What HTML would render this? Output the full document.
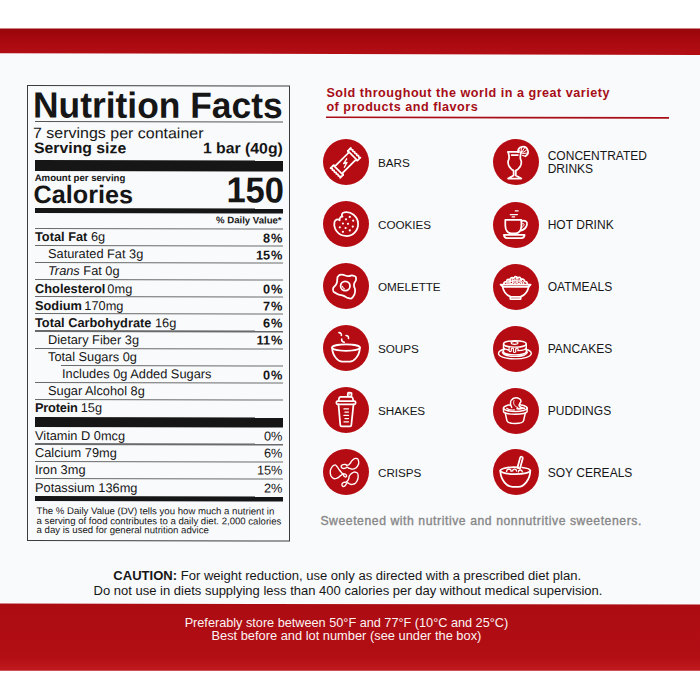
<!DOCTYPE html>
<html><head><meta charset="utf-8"><title>Nutrition Facts</title>
<style>
html,body{margin:0;padding:0;background:#fff;}
body{width:700px;height:700px;position:relative;overflow:hidden;font-family:"Liberation Sans",sans-serif;}
.t{position:absolute;white-space:nowrap;margin:0;padding:0;}
.r{position:absolute;box-sizing:content-box;}
b{font-weight:bold}
</style></head><body>
<div class="r" style="left:0;top:28.5px;width:700px;height:642px;background:#f9fafc"></div>
<svg class="r" style="left:0;top:0" width="700" height="700"><defs><linearGradient id="g1" x1="0" y1="0" x2="0" y2="1"><stop offset="0" stop-color="#98060b"/><stop offset="0.35" stop-color="#a5080e"/><stop offset="1" stop-color="#b40e15"/></linearGradient><linearGradient id="g2" x1="0" y1="0" x2="0" y2="1"><stop offset="0" stop-color="#ab0c12"/><stop offset="0.8" stop-color="#b20e14"/><stop offset="1" stop-color="#bf1a20"/></linearGradient></defs><polygon points="0,28.6 700,28.6 700,55 0,53.2" fill="url(#g1)"/><polygon points="0,603.6 700,604.4 700,670.8 0,670.8" fill="url(#g2)"/></svg>
<div id="nf" style="position:absolute;left:0;top:0;width:700px;height:700px;transform:skewY(0.1deg);transform-origin:27px 312px;">
<div class="r" style="left:27px;top:84.5px;width:261.40000000000003px;height:454.90000000000003px;border:1.2px solid #3c3c3c"></div>
<div class="t" style="top:87.47px;font-size:36.3px;line-height:36.3px;color:#161616;font-weight:bold;left:32.6px;transform:translateY(0.5px) scaleX(0.975);transform-origin:left center;">Nutrition Facts</div>
<div class="r" style="left:35px;top:120.5px;width:247.5px;height:1.0px;background:#555;"></div>
<div class="t" style="top:124.50px;font-size:15.0px;line-height:15.0px;color:#161616;left:33.2px;transform:translateY(0px) scaleX(1.065);transform-origin:left center;">7 servings per container</div>
<div class="t" style="top:140.33px;font-size:15.2px;line-height:15.2px;color:#161616;font-weight:bold;left:33.8px;transform:translateY(0px) scaleX(1.04);transform-origin:left center;">Serving size</div>
<div class="t" style="top:139.73px;font-size:15.2px;line-height:15.2px;color:#161616;font-weight:bold;right:417.2px;transform:translateY(0px) scaleX(1.04);transform-origin:right center;">1 bar (40g)</div>
<div class="r" style="left:34.6px;top:160px;width:248.4px;height:10.6px;background:#161616;"></div>
<div class="t" style="top:172.77px;font-size:9.6px;line-height:9.6px;color:#161616;font-weight:bold;left:34.7px;">Amount per serving</div>
<div class="t" style="top:182.07px;font-size:25.2px;line-height:25.2px;color:#161616;font-weight:bold;left:33.6px;">Calories</div>
<div class="t" style="top:172.13px;font-size:36px;line-height:36px;color:#161616;font-weight:bold;right:415.9px;transform:translateY(0px) scaleX(0.96);transform-origin:right center;">150</div>
<div class="r" style="left:34.6px;top:208.2px;width:248.4px;height:4.4px;background:#161616;"></div>
<div class="t" style="top:215.27px;font-size:9.6px;line-height:9.6px;color:#161616;font-weight:bold;right:418.4px;">% Daily Value*</div>
<div class="r" style="left:35px;top:227.8px;width:247.5px;height:1.2px;background:#6a6a6a;"></div>
<div class="t" style="top:231.26px;font-size:12.8px;line-height:12.8px;color:#161616;left:35px;"><b>Total Fat</b> 6g</div>
<div class="t" style="top:231.76px;font-size:12.8px;line-height:12.8px;color:#161616;font-weight:bold;right:417.5px;">8<span style="margin-left:1px">%</span></div>
<div class="r" style="left:35px;top:244.9px;width:247.5px;height:1.2px;background:#6a6a6a;"></div>
<div class="t" style="top:248.36px;font-size:12.8px;line-height:12.8px;color:#161616;left:48px;">Saturated Fat 3g</div>
<div class="t" style="top:248.86px;font-size:12.8px;line-height:12.8px;color:#161616;font-weight:bold;right:417.5px;">15<span style="margin-left:1px">%</span></div>
<div class="r" style="left:35px;top:262.0px;width:247.5px;height:1.2px;background:#6a6a6a;"></div>
<div class="t" style="top:265.46px;font-size:12.8px;line-height:12.8px;color:#161616;left:48px;"><i>Trans</i> Fat 0g</div>
<div class="r" style="left:35px;top:279.09999999999997px;width:247.5px;height:1.2px;background:#6a6a6a;"></div>
<div class="t" style="top:282.56px;font-size:12.8px;line-height:12.8px;color:#161616;left:35px;"><b>Cholesterol</b><span style="margin-left:-1.6px"> 0mg</span></div>
<div class="t" style="top:283.06px;font-size:12.8px;line-height:12.8px;color:#161616;font-weight:bold;right:417.5px;">0<span style="margin-left:1px">%</span></div>
<div class="r" style="left:35px;top:296.2px;width:247.5px;height:1.2px;background:#6a6a6a;"></div>
<div class="t" style="top:299.66px;font-size:12.8px;line-height:12.8px;color:#161616;left:35px;"><b>Sodium</b><span style="margin-left:-1.2px"> 170mg</span></div>
<div class="t" style="top:300.16px;font-size:12.8px;line-height:12.8px;color:#161616;font-weight:bold;right:417.5px;">7<span style="margin-left:1px">%</span></div>
<div class="r" style="left:35px;top:313.29999999999995px;width:247.5px;height:1.2px;background:#6a6a6a;"></div>
<div class="t" style="top:316.76px;font-size:12.8px;line-height:12.8px;color:#161616;left:35px;"><b>Total Carbohydrate</b> 16g</div>
<div class="t" style="top:317.26px;font-size:12.8px;line-height:12.8px;color:#161616;font-weight:bold;right:417.5px;">6<span style="margin-left:1px">%</span></div>
<div class="r" style="left:35px;top:330.4px;width:247.5px;height:1.2px;background:#6a6a6a;"></div>
<div class="t" style="top:333.86px;font-size:12.8px;line-height:12.8px;color:#161616;left:48px;">Dietary Fiber 3g</div>
<div class="t" style="top:334.36px;font-size:12.8px;line-height:12.8px;color:#161616;font-weight:bold;right:417.5px;">11<span style="margin-left:1px">%</span></div>
<div class="r" style="left:35px;top:347.5px;width:247.5px;height:1.2px;background:#6a6a6a;"></div>
<div class="t" style="top:350.96px;font-size:12.8px;line-height:12.8px;color:#161616;left:48px;">Total Sugars 0g</div>
<div class="r" style="left:61px;top:364.6px;width:221.5px;height:1.2px;background:#6a6a6a;"></div>
<div class="t" style="top:368.06px;font-size:12.8px;line-height:12.8px;color:#161616;left:62px;">Includes 0g Added Sugars</div>
<div class="t" style="top:368.56px;font-size:12.8px;line-height:12.8px;color:#161616;font-weight:bold;right:417.5px;">0<span style="margin-left:1px">%</span></div>
<div class="r" style="left:35px;top:381.7px;width:247.5px;height:1.2px;background:#6a6a6a;"></div>
<div class="t" style="top:385.16px;font-size:12.8px;line-height:12.8px;color:#161616;left:48px;">Sugar Alcohol 8g</div>
<div class="r" style="left:35px;top:398.79999999999995px;width:247.5px;height:1.2px;background:#6a6a6a;"></div>
<div class="t" style="top:402.26px;font-size:12.8px;line-height:12.8px;color:#161616;left:35px;"><b style="letter-spacing:-0.2px">Protein</b><span style="margin-left:-0.6px"> 15g</span></div>
<div class="r" style="left:35px;top:416.6px;width:247.5px;height:10px;background:#161616;"></div>
<div class="t" style="top:430.16px;font-size:12.8px;line-height:12.8px;color:#161616;left:35px;">Vitamin D 0mcg</div>
<div class="t" style="top:430.16px;font-size:12.8px;line-height:12.8px;color:#161616;right:417.5px;">0%</div>
<div class="r" style="left:35px;top:443.4px;width:247.5px;height:1.2px;background:#6a6a6a;"></div>
<div class="t" style="top:447.31px;font-size:12.8px;line-height:12.8px;color:#161616;left:35px;">Calcium 79mg</div>
<div class="t" style="top:447.31px;font-size:12.8px;line-height:12.8px;color:#161616;right:417.5px;">6%</div>
<div class="r" style="left:35px;top:460.54999999999995px;width:247.5px;height:1.2px;background:#6a6a6a;"></div>
<div class="t" style="top:464.46px;font-size:12.8px;line-height:12.8px;color:#161616;left:35px;">Iron 3mg</div>
<div class="t" style="top:464.46px;font-size:12.8px;line-height:12.8px;color:#161616;right:417.5px;">15%</div>
<div class="r" style="left:35px;top:477.7px;width:247.5px;height:1.2px;background:#6a6a6a;"></div>
<div class="t" style="top:481.61px;font-size:12.8px;line-height:12.8px;color:#161616;left:35px;">Potassium 136mg</div>
<div class="t" style="top:481.61px;font-size:12.8px;line-height:12.8px;color:#161616;right:417.5px;">2%</div>
<div class="r" style="left:35px;top:496px;width:247.5px;height:4.6px;background:#161616;"></div>
<div class="t" style="top:506.27px;font-size:9.6px;line-height:9.6px;color:#161616;left:36.6px;">The % Daily Value (DV) tells you how much a nutrient in</div>
<div class="t" style="top:515.67px;font-size:9.6px;line-height:9.6px;color:#161616;left:36.6px;">a serving of food contributes to a daily diet. 2,000 calories</div>
<div class="t" style="top:525.07px;font-size:9.6px;line-height:9.6px;color:#161616;left:36.6px;">a day is used for general nutrition advice</div>
</div>
<div class="t" style="top:86.93px;font-size:12.6px;line-height:12.6px;color:#a60d16;font-weight:bold;letter-spacing:0.515px;left:326.4px;">Sold throughout the world in a great variety</div>
<div class="t" style="top:101.13px;font-size:12.6px;line-height:12.6px;color:#a60d16;font-weight:bold;letter-spacing:0.515px;left:326.4px;">of products and flavors</div>
<svg class="r" style="left:0;top:0" width="700" height="130"><polygon points="326,116.5 669,117.0 669,118.7 326,118.1" fill="#a90e17"/></svg>
<svg class="r" style="left:321.00px;top:136.90px" width="50" height="50" viewBox="-25 -25 50 50"><circle cx="0" cy="0" r="23" fill="#b50b12"/><g fill="none" stroke="#fff" stroke-width="1.75" stroke-linecap="round" stroke-linejoin="round"><g transform="translate(-0.5,0.9) rotate(-45)"><path d="M-9.0,-5.0 L9.0,-5.0 L10.2,-6.8 L14.3,-6.8 l-0.9,1.36 l0.9,1.36 l-0.9,1.36 l0.9,1.36 l-0.9,1.36 l0.9,1.36 l-0.9,1.36 l0.9,1.36 l-0.9,1.36 l0.9,1.36 L10.2,6.8 L9.0,5.0 L-9.0,5.0 L-10.2,6.8 L-14.3,6.8 l0.9,-1.36 l-0.9,-1.36 l0.9,-1.36 l-0.9,-1.36 l0.9,-1.36 l-0.9,-1.36 l0.9,-1.36 l-0.9,-1.36 l0.9,-1.36 l-0.9,-1.36 L-10.2,-6.8 Z"/><path d="M10.2,-6.8 V6.8 M-10.2,-6.8 V6.8"/><path d="M1.5,-4.0 L-1.9,0.6 L1.5,-0.4 L-1.5,4.2" transform="rotate(40)" stroke-width="1.35"/></g></g></svg>
<svg class="r" style="left:491.00px;top:137.10px" width="50" height="50" viewBox="-25 -25 50 50"><circle cx="0" cy="0" r="23" fill="#b50b12"/><g fill="none" stroke="#fff" stroke-width="1.75" stroke-linecap="round" stroke-linejoin="round"><path d="M-7.9,-10.1 C-7.57,-8.2 -6.9,-8.1 -6.9,-4.4 C-6.9,-0.7 -8.33,-2.47 -7.9,1 C-7.47,4.47 -7.43,3.47 -5.6,6 C-3.77,8.53 -3.47,7.73 -2.4,8.6 L-2.4,13.6 L-7.9,16.5 L5.3,16.5 L-0.2,13.6 L-0.2,8.6"/><path d="M-0.2,8.6 C0.87,7.73 1.17,8.53 3,6 C4.83,3.47 4.87,4.47 5.3,1 C5.73,-2.47 4.3,-0.7 4.3,-4.4 C4.3,-8.1 4.97,-8.2 5.3,-10.1"/><path d="M-7.9,-10.1 H2.6"/><path d="M-4.4,-6.9 H1.9"/><path d="M2.02,-9.76 A5.0 5.0 0 1 1 9.35,-5.79"/><path d="M4.47,-9.31 L3.43,-11.5 M5.09,-9.99 L5.39,-13.64 M6.01,-10.03 L8.3,-13.77 M6.69,-9.41 L10.44,-11.81 M6.73,-8.49 L10.57,-8.9 " stroke-width="1.0"/><path d="M2.02,-9.76 L3.2,-9.2 M9.35,-5.79 L6.6,-6.6" stroke-width="1.1"/></g></svg>
<div class="t" style="top:156.50px;font-size:11.7px;line-height:11.7px;color:#161616;letter-spacing:-0.05px;left:378px;">BARS</div>
<div class="t" style="top:149.54px;font-size:12.0px;line-height:12.0px;color:#161616;letter-spacing:0.02px;left:547.7px;">CONCENTRATED</div>
<div class="t" style="top:163.14px;font-size:12.0px;line-height:12.0px;color:#161616;letter-spacing:0.02px;left:547.7px;">DRINKS</div>
<svg class="r" style="left:321.00px;top:199.20px" width="50" height="50" viewBox="-25 -25 50 50"><circle cx="0" cy="0" r="23" fill="#b50b12"/><g fill="none" stroke="#fff" stroke-width="1.75" stroke-linecap="round" stroke-linejoin="round"><path d="M-2.0,-11.73 A2.6 2.6 0 0 0 -3.7,-7.4 A2.6 2.6 0 0 0 -6.4,-3.8 A3.2 3.2 0 0 0 -11.73,-2.0 A11.9 11.9 0 1 0 -2.0,-11.73 Z" transform="translate(0.2,0.1)"/><circle cx="3.8" cy="-7.1" r="1.1" fill="#fff" stroke="none"/><circle cx="0" cy="-4.7" r="1.1" fill="#fff" stroke="none"/><circle cx="7.2" cy="-3.3" r="1.1" fill="#fff" stroke="none"/><circle cx="-3.1" cy="-0.5" r="1.1" fill="#fff" stroke="none"/><circle cx="2.0" cy="-0.15" r="1.1" fill="#fff" stroke="none"/><circle cx="6.8" cy="2.6" r="1.1" fill="#fff" stroke="none"/><circle cx="-6.2" cy="3.3" r="1.1" fill="#fff" stroke="none"/><circle cx="-0.4" cy="4.0" r="1.1" fill="#fff" stroke="none"/><circle cx="3.8" cy="6.4" r="1.1" fill="#fff" stroke="none"/><circle cx="-3.1" cy="7.8" r="1.1" fill="#fff" stroke="none"/></g></svg>
<svg class="r" style="left:491.00px;top:199.50px" width="50" height="50" viewBox="-25 -25 50 50"><circle cx="0" cy="0" r="23" fill="#b50b12"/><g fill="none" stroke="#fff" stroke-width="1.75" stroke-linecap="round" stroke-linejoin="round"><path d="M-10.7,-5.1 H5.4 V0.5 C5.4,5.6 2.6,8.4 -0.4,8.4 H-4.9 C-7.9,8.4 -10.7,5.6 -10.7,0.5 Z"/><path d="M5.4,-3.9 C9,-5.2 11.6,-3.5 11.0,-0.5 C10.4,2.6 8,4.6 5.0,5.6"/><path d="M5.6,-0.8 C6.8,-1.8 8.4,-1.6 8.0,-0.2 C7.6,1.2 6.6,2.2 5.6,2.6" stroke-width="1.0"/><path d="M-12.1,9.9 H8.6 C8.4,11.9 7,13.1 5.5,13.1 H-9 C-10.5,13.1 -11.9,11.9 -12.1,9.9 Z"/><path d="M-0.7,-14.1 H2.1 M-5.7,-10.5 H1.4 M-3.9,-8.1 H-1.4" stroke-width="1.25"/></g></svg>
<div class="t" style="top:218.50px;font-size:11.7px;line-height:11.7px;color:#161616;letter-spacing:-0.05px;left:378px;">COOKIES</div>
<div class="t" style="top:218.94px;font-size:12.0px;line-height:12.0px;color:#161616;letter-spacing:0.02px;left:547.7px;">HOT DRINK</div>
<svg class="r" style="left:321.00px;top:261.00px" width="50" height="50" viewBox="-25 -25 50 50"><circle cx="0" cy="0" r="23" fill="#b50b12"/><g fill="none" stroke="#fff" stroke-width="1.75" stroke-linecap="round" stroke-linejoin="round"><path d="M-7.9,-9.6 C-6.43,-11.1 -7.53,-11.2 -4.3,-11.3 C-1.07,-11.4 -2,-10.2 1.8,-9.9 C5.6,-9.6 4.33,-11.33 7.1,-10.4 C9.87,-9.47 9.8,-10.1 10.1,-7.1 C10.4,-4.1 8.33,-5.43 8,-1.4 C7.67,2.63 9.5,0.83 9.1,5 C8.7,9.17 9,8.73 6.8,11.1 C4.6,13.47 5.73,12.6 2.5,12.1 C-0.73,11.6 1.13,11.13 -2.9,9.6 C-6.93,8.07 -6.23,9.63 -9.6,7.5 C-12.97,5.37 -13,6.4 -13,3.2 C-13,0 -11.03,1.23 -9.6,-2.1 C-8.17,-5.43 -9.27,-4.3 -8.7,-6.8 C-8.13,-9.3 -9.37,-8.1 -7.9,-9.6Z"/><circle cx="-0.7" cy="0" r="4.7"/><path d="M-3.5,0.3 A2.8 2.8 0 0 0 -1.6,2.7" stroke-width="1.1"/></g></svg>
<svg class="r" style="left:491.00px;top:261.50px" width="50" height="50" viewBox="-25 -25 50 50"><circle cx="0" cy="0" r="23" fill="#b50b12"/><g fill="none" stroke="#fff" stroke-width="1.75" stroke-linecap="round" stroke-linejoin="round"><path d="M-15.4,-2.3 H14.6 L12.6,-0.1 H-13.0 Z"/><path d="M-13.6,-1.2 C-12.5,5 -9,8.3 -5.6,9.6 M12.9,-1.2 C11.8,5 8.3,8.3 4.8,9.6"/><rect x="-5.7" y="9.8" width="10.4" height="2.3" rx="0.4"/><path d="M-12.1,-2.6 C-11.93,-3.27 -12.43,-3.67 -11.6,-4.6 C-10.77,-5.53 -10.6,-4.5 -9.6,-5.4 C-8.6,-6.3 -9.73,-6.57 -8.6,-7.3 C-7.47,-8.03 -7.53,-6.93 -6.2,-7.6 C-4.87,-8.27 -5.93,-8.77 -4.6,-9.3 C-3.27,-9.83 -3.53,-8.87 -2.2,-9.2 C-0.87,-9.53 -1.87,-10.2 -0.6,-10.3 C0.67,-10.4 0.2,-9.73 1.6,-9.5 C3,-9.27 2.4,-10.03 3.6,-9.6 C4.8,-9.17 3.87,-8.87 5.2,-8.2 C6.53,-7.53 6.47,-8.4 7.6,-7.6 C8.73,-6.8 7.6,-6.7 8.6,-5.8 C9.6,-4.9 9.67,-5.97 10.6,-4.9 C11.53,-3.83 11.13,-3.37 11.4,-2.6"/><circle cx="-8.0" cy="-3.9" r="1.25" stroke-width="1.15"/><circle cx="-4.6" cy="-4.6" r="1.35" stroke-width="1.15"/><circle cx="-0.9" cy="-5.0" r="1.35" stroke-width="1.15"/><circle cx="2.9" cy="-4.8" r="1.35" stroke-width="1.15"/><circle cx="6.6" cy="-4.0" r="1.25" stroke-width="1.15"/><circle cx="-2.8" cy="-7.4" r="1.1" stroke-width="1.15"/><circle cx="1.0" cy="-7.7" r="1.1" stroke-width="1.15"/><circle cx="-6.3" cy="-6.3" r="0.9" stroke-width="1.15"/><circle cx="4.8" cy="-6.8" r="0.9" stroke-width="1.15"/></g></svg>
<div class="t" style="top:280.50px;font-size:11.7px;line-height:11.7px;color:#161616;letter-spacing:-0.05px;left:378px;">OMELETTE</div>
<div class="t" style="top:280.94px;font-size:12.0px;line-height:12.0px;color:#161616;letter-spacing:0.02px;left:547.7px;">OATMEALS</div>
<svg class="r" style="left:321.00px;top:323.00px" width="50" height="50" viewBox="-25 -25 50 50"><circle cx="0" cy="0" r="23" fill="#b50b12"/><g fill="none" stroke="#fff" stroke-width="1.75" stroke-linecap="round" stroke-linejoin="round"><ellipse cx="0" cy="-0.4" rx="13.9" ry="3.2"/><path d="M-13.9,-0.4 C-13.5,8.5 -7.5,13.7 -3.8,13.7 L3.8,13.7 C7.5,13.7 13.5,8.5 13.9,-0.4"/><path d="M-7.1,-15.4 Q-4.3,-15.2 -4.6,-12.5 M0,-12.5 Q2.8,-12.3 2.5,-9.6 M-4.3,-8.9 Q-4.6,-6.2 -1.8,-5.7" stroke-width="1.6"/></g></svg>
<svg class="r" style="left:491.00px;top:323.50px" width="50" height="50" viewBox="-25 -25 50 50"><circle cx="0" cy="0" r="23" fill="#b50b12"/><g fill="none" stroke="#fff" stroke-width="1.4" stroke-linecap="round" stroke-linejoin="round"><path d="M-11.6,0.2 C-15.6,1 -17.5,2.6 -17.5,4.5 C-17.5,7.5 -10.2,9.9 -1.1,9.9 C8,9.9 15.3,7.5 15.3,4.5 C15.3,2.6 13.4,1 9.4,0.2"/><path d="M-13.6,3.0 C-13,5.6 -8,7.4 -1.1,7.4 C5.8,7.4 10.8,5.6 11.4,3.0"/><ellipse cx="-1.1" cy="-5.1" rx="11.4" ry="3.2"/><path d="M-12.5,-5.1 V2.7 C-12.5,4.5 -7.4,5.9 -1.1,5.9 C5.2,5.9 10.3,4.5 10.3,2.7 V-5.1"/><path d="M-12.5,-1.2 C-12,-0.2 -10,0.5 -7.6,1.0 M2,1.6 C6.4,1.3 10,0.2 10.3,-1.2"/><path d="M-4.4,-5.2 L-4.8,-6.6 L-1.8,-7.9 L1.9,-6.8 L1.7,-5.2 Q-1.4,-4.2 -4.4,-5.2 Z" stroke-width="1.2"/><path d="M-6.9,-2.2 V1.6 A1.1 1.1 0 0 0 -4.7,1.6 V0.2 A1.1 1.1 0 0 1 -2.5,0.2 V2.4 A1.1 1.1 0 0 0 -0.3,2.4 V0.4 A1.2 1.2 0 0 1 2.1,0.4 V1.4" stroke-width="1.2"/></g></svg>
<div class="t" style="top:342.50px;font-size:11.7px;line-height:11.7px;color:#161616;letter-spacing:-0.05px;left:378px;">SOUPS</div>
<div class="t" style="top:342.94px;font-size:12.0px;line-height:12.0px;color:#161616;letter-spacing:0.02px;left:547.7px;">PANCAKES</div>
<svg class="r" style="left:321.00px;top:385.00px" width="50" height="50" viewBox="-25 -25 50 50"><circle cx="0" cy="0" r="23" fill="#b50b12"/><g fill="none" stroke="#fff" stroke-width="1.75" stroke-linecap="round" stroke-linejoin="round"><path d="M-7.5,-5.7 L-5.7,15.2 Q-5.6,16.4 -4.4,16.4 L4,16.4 Q5.2,16.4 5.3,15.2 L7.5,-5.7"/><rect x="-9.6" y="-8.9" width="19.2" height="3.2" rx="1.2"/><path d="M-7.5,-8.9 L-7,-11.6 Q-6.7,-13.1 -5.2,-13.1 L5,-13.1 Q6.5,-13.1 6.8,-11.6 L7.3,-8.9"/><rect x="1.8" y="-17.2" width="3.7" height="3.7" rx="0.8" transform="rotate(8 3.6 -15.3)"/><circle cx="3.7" cy="-15.4" r="0.5" fill="#fff" stroke="none"/><path d="M-2.1,-1.1 H2.5 M-1.1,2.1 H2.5 M-2.1,5.4 H2.5 M-1.1,8.6 H2.5 M-2.1,11.8 H2.5" stroke-width="1.2"/></g></svg>
<svg class="r" style="left:491.00px;top:385.50px" width="50" height="50" viewBox="-25 -25 50 50"><circle cx="0" cy="0" r="23" fill="#b50b12"/><g fill="none" stroke="#fff" stroke-width="1.5" stroke-linecap="round" stroke-linejoin="round"><ellipse cx="-0.7" cy="-3" rx="11.8" ry="3.6"/><path d="M-12.5,-3 V0.6 C-12.5,2.1 -7.2,3.3 -0.7,3.3 C5.8,3.3 11.1,2.1 11.1,0.6 V-3"/><path d="M-10.7,2.2 L-9.1,9.6 C-8.8,11.2 -5,12.4 -0.8,12.4 C3.4,12.4 7.2,11.2 7.6,9.6 L9.3,2.2"/><path d="M-4.3,-3.6 C-4.7,-5.13 -5.73,-5.47 -5.5,-8.2 C-5.27,-10.93 -5.33,-10.17 -3.6,-11.8 C-1.87,-13.43 -2.57,-12.93 -0.3,-13.1 C1.97,-13.27 1.47,-13.3 3.2,-12.3 C4.93,-11.3 4.7,-11.73 4.9,-10.1 C5.1,-8.47 4.37,-9.03 3.8,-7.4 C3.23,-5.77 2.7,-6.5 3.2,-5.2 C3.7,-3.9 3.53,-4.33 5.3,-3.5 C7.07,-2.67 7.43,-2.97 8.5,-2.7" fill="#b50b12"/><path d="M-9.4,-2.7 C-7.5,-1.3 -4.6,-0.9 -1.6,-1.1" stroke-width="1.1"/><path d="M-2.0,-10.4 C-3.4,-7.6 -1.6,-4.6 1.6,-3.6" stroke-width="1.0"/><path d="M1.2,-2.5 C3.0,-2.0 5.0,-2.2 6.8,-2.8" stroke-width="1.9"/></g></svg>
<div class="t" style="top:404.50px;font-size:11.7px;line-height:11.7px;color:#161616;letter-spacing:-0.05px;left:378px;">SHAKES</div>
<div class="t" style="top:404.94px;font-size:12.0px;line-height:12.0px;color:#161616;letter-spacing:0.02px;left:547.7px;">PUDDINGS</div>
<svg class="r" style="left:321.00px;top:447.00px" width="50" height="50" viewBox="-25 -25 50 50"><circle cx="0" cy="0" r="23" fill="#b50b12"/><g fill="none" stroke="#fff" stroke-width="1.35" stroke-linecap="round" stroke-linejoin="round"><path d="M6.43,-11.79 C8.45,-13.5 7.98,-13.81 10,-13.57 C12.02,-13.33 11.9,-13.45 12.5,-11.07 C13.1,-8.69 13.33,-9.05 11.79,-6.43 C10.24,-3.81 10.6,-4.17 7.86,-3.21 C5.12,-2.26 5.83,-3.02 3.57,-3.57 C1.31,-4.12 2.5,-4.79 1.07,-4.86 C-0.36,-4.93 0.83,-4.14 -0.71,-3.79 C-2.26,-3.43 -2.21,-3.19 -3.57,-3.79 C-4.93,-4.38 -4.79,-4.45 -4.79,-5.57 C-4.79,-6.69 -4.93,-6.5 -3.57,-7.14 C-2.21,-7.79 -2.43,-7.62 -0.71,-7.5 C1,-7.38 0.02,-6.48 1.57,-6.79 C3.12,-7.1 2.31,-6.76 3.93,-8.43 C5.55,-10.1 4.4,-10.07 6.43,-11.79Z"/><path d="M-11.79,-6.79 C-13.57,-6.19 -13.33,-6.55 -14.64,-3.93 C-15.95,-1.31 -16.07,-2.1 -15.71,1.07 C-15.36,4.24 -15.6,3.79 -13.57,5.57 C-11.55,7.36 -12.26,6.98 -9.64,6.43 C-7.02,5.88 -7.86,5.4 -5.71,3.93 C-3.57,2.45 -4.64,2.64 -3.21,2 C-1.79,1.36 -2.62,1.67 -1.43,2 C-0.24,2.33 -0.17,2.12 0.36,3 C0.88,3.88 0.79,4.17 0.14,4.64 C-0.5,5.12 -0.33,5.45 -1.57,4.43 C-2.81,3.4 -1.9,3.71 -3.57,1.57 C-5.24,-0.57 -4.67,0.43 -6.57,-2 C-8.48,-4.43 -7.55,-4.12 -9.29,-5.71 C-11.02,-7.31 -10,-7.38 -11.79,-6.79Z"/><path d="M6.43,0.86 C8.57,-0.26 8.1,-0.55 10,0.36 C11.9,1.26 11.86,0.6 12.14,3.57 C12.43,6.55 12.48,6.43 10.86,9.29 C9.24,12.14 9.71,11.26 7.29,12.14 C4.86,13.02 5.57,12.33 3.57,11.93 C1.57,11.52 2.83,10.26 1.29,10.93 C-0.26,11.6 0.5,12.86 -1.07,13.93 C-2.64,15 -2.45,14.79 -3.43,14.14 C-4.4,13.5 -4.38,13.24 -4,12 C-3.62,10.76 -3.62,11.1 -2.29,10.43 C-0.95,9.76 -1.6,11.05 0,10 C1.6,8.95 1.31,9.38 2.5,7.29 C3.69,5.19 2.26,5.86 3.57,3.71 C4.88,1.57 4.29,1.98 6.43,0.86Z"/></g></svg>
<svg class="r" style="left:491.00px;top:447.40px" width="50" height="50" viewBox="-25 -25 50 50"><circle cx="0" cy="0" r="23" fill="#b50b12"/><g fill="none" stroke="#fff" stroke-width="1.75" stroke-linecap="round" stroke-linejoin="round"><path d="M2.4,-4.6 C-1,-5.1 -5,-5 -8.5,-4.4 C-13,-3.6 -15.7,-2.6 -15.7,-1.4 C-15.7,0.6 -9,2.2 -0.7,2.2 C7.6,2.2 14.3,0.6 14.3,-1.4 C14.3,-2.6 11.4,-3.8 6.2,-4.5"/><path d="M-15.7,-1.4 C-15.4,8.2 -9,14.9 -3.6,14.9 L2.2,14.9 C7.6,14.9 14,8.2 14.3,-1.4"/><path d="M4.2,-14.4 L1.4,-4.2 L4.0,-3.5 L6.8,-13.7 A1.35 1.35 0 0 0 4.2,-14.4 Z"/><path d="M-9.4,-0.6 A2.3 2.3 0 0 1 -4.8,-0.6 M-3.3,-1.0 A1.9 1.9 0 0 1 0.5,-1.0 M2.4,-0.1 A1.9 1.9 0 0 1 6.2,-0.1" stroke-width="1.3"/></g></svg>
<div class="t" style="top:466.50px;font-size:11.7px;line-height:11.7px;color:#161616;letter-spacing:-0.05px;left:378px;">CRISPS</div>
<div class="t" style="top:466.94px;font-size:12.0px;line-height:12.0px;color:#161616;letter-spacing:0.02px;left:547.7px;">SOY CEREALS</div>
<div class="t" style="top:515.27px;font-size:12.2px;line-height:12.2px;color:#878787;letter-spacing:0.57px;left:320.4px;-webkit-text-stroke:0.35px #878787;">Sweetened with nutritive and nonnutritive sweeteners.</div>
<div class="t" style="top:568.55px;font-size:13.05px;line-height:13.05px;color:#161616;left:-2.8000000000000114px;width:700px;text-align:center;"><b>CAUTION:</b> For weight reduction, use only as directed with a prescribed diet plan.</div>
<div class="t" style="top:583.10px;font-size:13.0px;line-height:13.0px;color:#161616;left:-2.5px;width:700px;text-align:center;transform:translateY(0.6px) scaleX(1.0001);transform-origin:center center;">Do not use in diets supplying less than 400 calories per day without medical supervision.</div>
<div class="t" style="top:616.85px;font-size:12.7px;line-height:12.7px;color:#fdf3f3;left:-3.6000000000000227px;width:700px;text-align:center;">Preferably store between 50°F and 77°F (10°C and 25°C)</div>
<div class="t" style="top:630.32px;font-size:12.85px;line-height:12.85px;color:#fdf3f3;left:-3.6000000000000227px;width:700px;text-align:center;">Best before and lot number (see under the box)</div>
</body></html>
